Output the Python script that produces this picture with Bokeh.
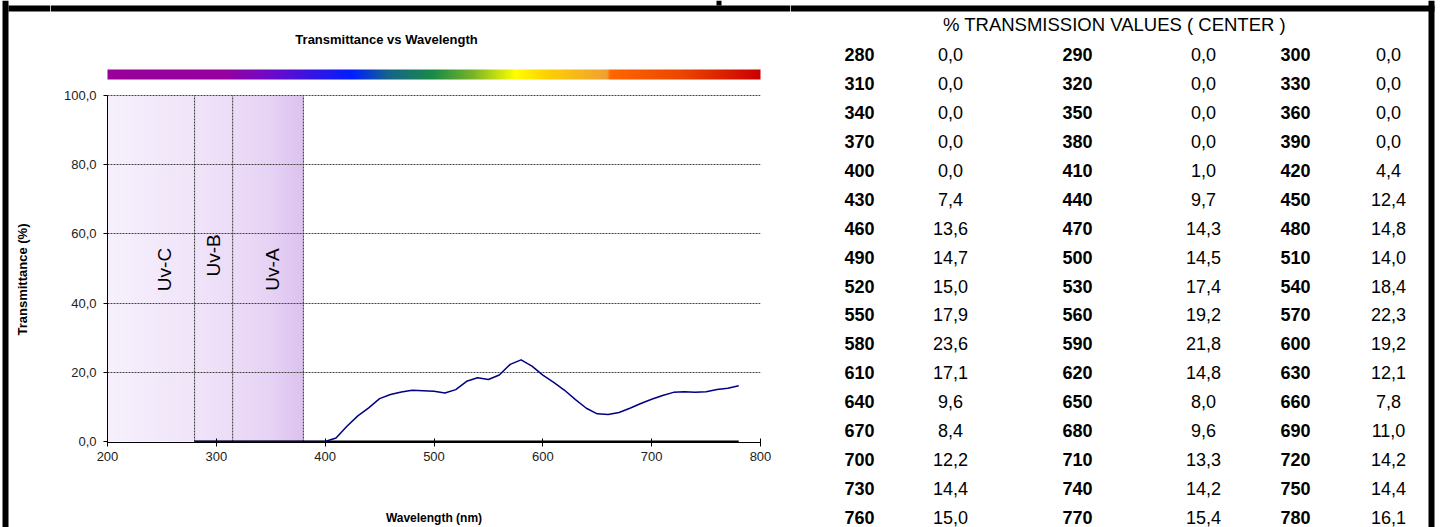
import numpy as np
from bokeh.plotting import figure
from bokeh.models import ColumnDataSource, FixedTicker, Range1d
from bokeh.layouts import row, column
from bokeh.core.properties import value
from bokeh.embed import file_html
from bokeh.resources import INLINE

# ---------------- data ----------------
wavelengths = [280, 290, 300, 310, 320, 330, 340, 350, 360, 370, 380, 390, 400, 410, 420,
               430, 440, 450, 460, 470, 480, 490, 500, 510, 520, 530, 540, 550, 560, 570,
               580, 590, 600, 610, 620, 630, 640, 650, 660, 670, 680, 690, 700, 710, 720,
               730, 740, 750, 760, 770, 780]
transmission = [0.0, 0.0, 0.0, 0.0, 0.0, 0.0, 0.0, 0.0, 0.0, 0.0, 0.0, 0.0, 0.0, 1.0, 4.4,
                7.4, 9.7, 12.4, 13.6, 14.3, 14.8, 14.7, 14.5, 14.0, 15.0, 17.4, 18.4, 17.9, 19.2, 22.3,
                23.6, 21.8, 19.2, 17.1, 14.8, 12.1, 9.6, 8.0, 7.8, 8.4, 9.6, 11.0, 12.2, 13.3, 14.2,
                14.4, 14.2, 14.4, 15.0, 15.4, 16.1]
baseline = [0.0] * len(wavelengths)
x_ticks = [200, 300, 400, 500, 600, 700, 800]
y_ticks = [0, 20, 40, 60, 80, 100]
y_tick_labels = ["0,0", "20,0", "40,0", "60,0", "80,0", "100,0"]
uv_names = ["Uv-C", "Uv-B", "Uv-A"]
uv_bounds = [200, 280, 315, 380]
chart_title = "Transmittance vs Wavelength"
x_title = "Wavelength (nm)"
y_title = "Transmittance (%)"
table_title = "% TRANSMISSION VALUES ( CENTER )"

FONT = "Liberation Sans"
W, H = 1441, 527
LEFT_W = 50          # left strip (border + y title)
SPLIT_X = 790        # chart / table split
TOP_H = 85           # title + spectrum strip
FL, FR = 107, 760    # plot area, page px
PX_HUND, PX_ZERO = 95, 441
SY = (PX_ZERO - PX_HUND) / 100.0
FRAME_TOP, FRAME_BOT = 93, 442


def blank(x0, x1, y0, y1):
    """Figure covering page region [x0,x1]x[y0,y1]; data coords = (X, -Y) in page px."""
    f = figure(width=x1 - x0, height=y1 - y0, output_backend="svg", toolbar_location=None,
               x_range=Range1d(x0, x1), y_range=Range1d(-y1, -y0), min_border=0,
               x_axis_location=None, y_axis_location=None, title=None, frame_align=False)
    f.grid.visible = False
    f.outline_line_color = None
    f.background_fill_color = "white"
    f.border_fill_color = "white"
    return f


def rgba_strip(stops, n):
    sp = np.array([s[0] for s in stops], dtype=float)
    rgb = np.array([s[1] for s in stops], dtype=float)
    t = (np.arange(n) + 0.5) / n
    img = np.empty((1, n), dtype=np.uint32)
    view = img.view(dtype=np.uint8).reshape((1, n, 4))
    for k in range(3):
        view[0, :, k] = np.round(np.interp(t, sp, rgb[:, k])).astype(np.uint8)
    view[0, :, 3] = 255
    return img


def black_box(f, l, r, t, b):
    f.quad(left=l, right=r, top=-t, bottom=-b, fill_color="black", line_color=None)


# ---------------- left strip ----------------
left = blank(0, LEFT_W, 0, H)
black_box(left, 2, 8, 0, H)
black_box(left, 8, LEFT_W, 5, 11)
left.text(x=[22], y=[-279], text=[y_title], angle=np.pi / 2, text_align="center",
          text_baseline="middle", text_font=value(FONT), text_font_size="13px",
          text_font_style="bold", text_color="black")

# ---------------- top strip (title + spectrum) ----------------
top = blank(LEFT_W, SPLIT_X, 0, TOP_H)
black_box(top, LEFT_W, SPLIT_X, 5, 11)
black_box(top, 716, 721, 0, 5)
top.text(x=[386], y=[-39], text=[chart_title], text_align="center", text_baseline="middle",
         text_font=value(FONT), text_font_size="13px", text_font_style="bold",
         text_color="black")
spec_stops = [(0.00, (153, 0, 153)), (0.18, (150, 0, 160)), (0.25, (110, 10, 200)),
              (0.375, (0, 30, 255)), (0.43, (20, 100, 140)), (0.50, (26, 140, 70)),
              (0.56, (120, 180, 40)), (0.625, (255, 255, 0)), (0.67, (255, 210, 0)),
              (0.765, (240, 160, 50)), (0.77, (255, 102, 0)), (0.88, (235, 70, 0)),
              (1.00, (204, 0, 0))]
top.image_rgba(image=[rgba_strip(spec_stops, FR - FL)], x=FL, y=-79, dw=FR - FL, dh=10)

# ---------------- chart ----------------
cw, ch = SPLIT_X - LEFT_W, H - TOP_H
p = figure(width=cw, height=ch, output_backend="svg", toolbar_location=None,
           x_range=Range1d(200, 800),
           y_range=Range1d(-(FRAME_BOT - PX_ZERO) / SY, (PX_ZERO - FRAME_TOP) / SY),
           min_border_left=FL - LEFT_W, min_border_right=SPLIT_X - FR,
           min_border_top=FRAME_TOP - TOP_H, min_border_bottom=H - FRAME_BOT,
           title=None, frame_align=False)
p.outline_line_color = None
p.background_fill_color = "white"
p.border_fill_color = "white"

p.xaxis.ticker = FixedTicker(ticks=x_ticks)
p.xaxis.major_tick_in = 4
p.xaxis.major_tick_out = 4
p.xaxis.minor_tick_line_color = None
p.xaxis.axis_line_color = "black"
p.xaxis.major_tick_line_color = "black"
p.xaxis.major_label_text_font = FONT
p.xaxis.major_label_text_font_size = "13px"
p.xaxis.major_label_text_color = "#222222"
p.xaxis.major_label_standoff = 5
p.xaxis.axis_label = x_title
p.xaxis.axis_label_text_font = FONT
p.xaxis.axis_label_text_font_size = "12px"
p.xaxis.axis_label_text_font_style = "bold"
p.xaxis.axis_label_text_color = "black"
p.xaxis.axis_label_standoff = 47

p.yaxis.ticker = FixedTicker(ticks=y_ticks)
p.yaxis.major_label_overrides = {t: l for t, l in zip(y_ticks, y_tick_labels)}
p.yaxis.bounds = (0, 100)
p.yaxis.major_tick_in = 0
p.yaxis.major_tick_out = 4
p.yaxis.minor_tick_line_color = None
p.yaxis.axis_line_color = "black"
p.yaxis.major_tick_line_color = "black"
p.yaxis.major_label_text_font = FONT
p.yaxis.major_label_text_font_size = "13px"
p.yaxis.major_label_text_color = "#222222"
p.yaxis.major_label_standoff = 7

p.xgrid.visible = False
p.ygrid.ticker = FixedTicker(ticks=y_ticks[1:])
p.ygrid.grid_line_color = "#444444"
p.ygrid.grid_line_dash = "2 1"
p.ygrid.grid_line_width = 1

uv_stops = [(0.0, (246, 240, 252)), (0.444, (240, 228, 249)), (0.639, (236, 220, 247)),
            (0.833, (230, 210, 244)), (1.0, (220, 193, 238))]
p.image_rgba(image=[rgba_strip(uv_stops, 180)], x=uv_bounds[0], y=0,
             dw=uv_bounds[-1] - uv_bounds[0], dh=100, level="image")
p.segment(x0=uv_bounds[1:], y0=0, x1=uv_bounds[1:], y1=100, line_color="#333333",
          line_dash="2 1", line_width=1)
p.text(x=[252.4, 297.4, 351.6], y=[49.7, 53.8, 49.7], text=uv_names, angle=np.pi / 2,
       text_align="center", text_baseline="middle", text_font=value(FONT),
       text_font_size="19px", text_color="black")

p.line(wavelengths, baseline, line_color="black", line_width=2)
p.line(wavelengths, transmission, line_color="#000080", line_width=1.5, line_join="round")

# ---------------- table ----------------
tab = blank(SPLIT_X, W, 0, H)
black_box(tab, SPLIT_X, 1434, 5, 11)
black_box(tab, 1428, 1434, 0, H)
tab.text(x=[1114], y=[-24], text=[table_title], text_align="center", text_baseline="middle",
         text_font=value(FONT), text_font_size="18.5px", text_color="black")
row_y0, row_step = 54.0, 28.94
label_cols_px = [859, 1077, 1295]
value_cols_px = [950, 1203, 1388]
lx, vx, ty, lt, vt = [], [], [], [], []
for i, (w, v) in enumerate(zip(wavelengths, transmission)):
    r, c = divmod(i, 3)
    lx.append(label_cols_px[c])
    vx.append(value_cols_px[c])
    ty.append(-(row_y0 + r * row_step))
    lt.append(str(w))
    vt.append(("%.1f" % v).replace(".", ","))
tsrc = ColumnDataSource(dict(lx=lx, vx=vx, y=ty, lt=lt, vt=vt))
tab.text(x="lx", y="y", text="lt", source=tsrc, text_align="center", text_baseline="middle",
         text_font=value(FONT), text_font_size="18px", text_font_style="bold",
         text_color="black")
tab.text(x="vx", y="y", text="vt", source=tsrc, text_align="center", text_baseline="middle",
         text_font=value(FONT), text_font_size="18px", text_color="black")

layout = row(left, column(top, p), tab)
open("out.html", "w").write(file_html(layout, INLINE))
